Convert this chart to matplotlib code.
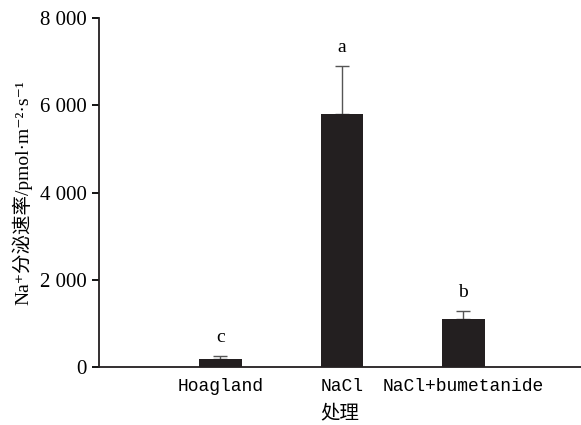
import matplotlib
matplotlib.use("Agg")
import matplotlib.pyplot as plt

categories = ["Hoagland", "NaCl", "NaCl+bumetanide"]
values = [180, 5800, 1100]
errors = [70, 1100, 190]
letters = ["c", "a", "b"]
yticks = [0, 2000, 4000, 6000, 8000]
ytick_labels = ["0", "2 000", "4 000", "6 000", "8 000"]

fig = plt.figure(figsize=(5.81, 4.25), dpi=100)
ax = fig.add_axes([0.1704, 0.1365, 0.83, 0.8211])

x = list(range(len(categories)))
ax.bar(x, values, width=0.35, color="#231f20", zorder=2)
ax.errorbar(x, values, yerr=[[0]*len(errors), errors], fmt="none",
            ecolor="#555555", elinewidth=1.0, capsize=5, capthick=1.0, zorder=1)
for xi, v, e, l in zip(x, values, errors, letters):
    ax.annotate(l, (xi, v + e), xytext=(0, 7), textcoords="offset points",
                ha="center", va="bottom", fontsize=14, family="Liberation Serif")

ax.set_xlim(-1.0, 2.97)
ax.set_ylim(0, 8000)
ax.set_yticks(yticks)
ax.set_yticklabels(ytick_labels, family="Liberation Serif", fontsize=15)
ax.set_xticks(x)
ax.set_xticklabels(categories, family=["Liberation Mono", "DejaVu Sans Mono"], fontsize=13)
ax.tick_params(axis="x", length=0, pad=8)
ax.tick_params(axis="y", direction="out", length=5, width=1.3, pad=4)
for s in ["top", "right"]:
    ax.spines[s].set_visible(False)
for s in ["left", "bottom"]:
    ax.spines[s].set_linewidth(1.3)
    ax.spines[s].set_color("#231f20")

ax.set_xlabel("处理", family=["Noto Sans CJK SC"], fontsize=14, labelpad=5)
ax.set_ylabel("Na⁺分泌速率/pmol·m⁻²·s⁻¹",
              family=["Liberation Serif", "DejaVu Serif", "Noto Sans CJK SC"],
              fontsize=14, labelpad=5)

fig.savefig("out.png", dpi=100)
